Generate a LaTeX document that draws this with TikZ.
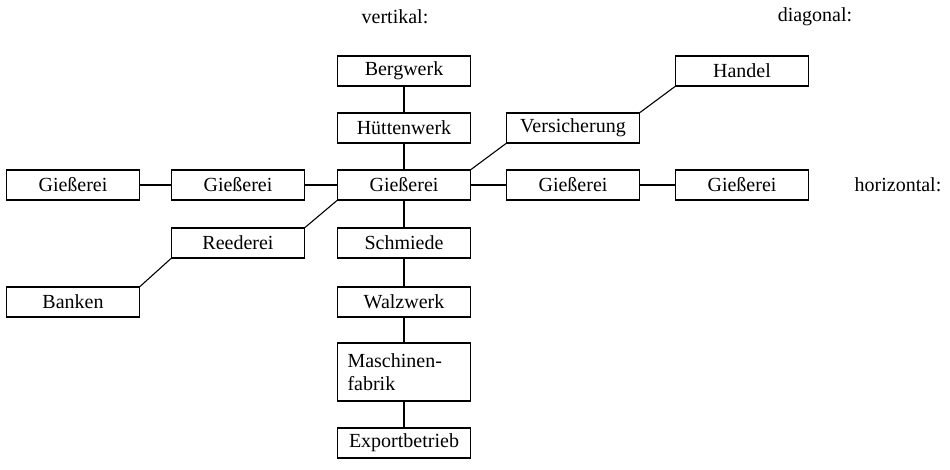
\documentclass[tikz,border=0pt]{standalone}
\usepackage{fontspec}
\setmainfont{Liberation Serif}
\begin{document}
\begin{tikzpicture}[x=1pt, y=-1pt, line width=1.1pt,
  firm/.style={draw, minimum width=133pt, minimum height=30pt, inner sep=0pt, font=\fontsize{20}{23}\selectfont},
  lbl/.style={inner sep=0pt, font=\fontsize{20}{23}\selectfont}]
  \useasboundingbox (0,0) rectangle (950,469);
  % headings
  \node[lbl] (vert) at (395,17) {vertikal:};
  \node[lbl] (diag) at (815,17) {diagonal:};
  \node[lbl] (hori) at (898,185) {horizontal:};
  % horizontal row
  \foreach \x/\n in {73/g1, 238/g2, 404/g3, 573/g4, 742/g5}
    \node[firm] (\n) at (\x,185) {Gießerei};
  % vertical column
  \node[firm] (berg) at (404,71) {Bergwerk};
  \node[firm] (huette) at (404,128) {Hüttenwerk};
  \node[firm] (schmiede) at (404,243) {Schmiede};
  \node[firm] (walz) at (404,302) {Walzwerk};
  \node[firm, minimum height=58pt, text width=113pt, align=left] (masch) at (404,372) {Maschinen-\\fabrik};
  \node[firm] (export) at (404,443) {Exportbetrieb};
  % diagonal
  \node[firm] (vers) at (573,128) {Versicherung};
  \node[firm] (handel) at (742,71) {Handel};
  \node[firm] (reed) at (238,243) {Reederei};
  \node[firm] (banken) at (73,302) {Banken};
  \draw (g1) -- (g2) -- (g3) -- (g4) -- (g5);
  \draw (berg) -- (huette) -- (g3) -- (schmiede) -- (walz) -- (masch) -- (export);
  \draw (g3.north east) -- (vers.south west);
  \draw (vers.north east) -- (handel.south west);
  \draw (g3.south west) -- (reed.north east);
  \draw (reed.south west) -- (banken.north east);
\end{tikzpicture}
\end{document}
